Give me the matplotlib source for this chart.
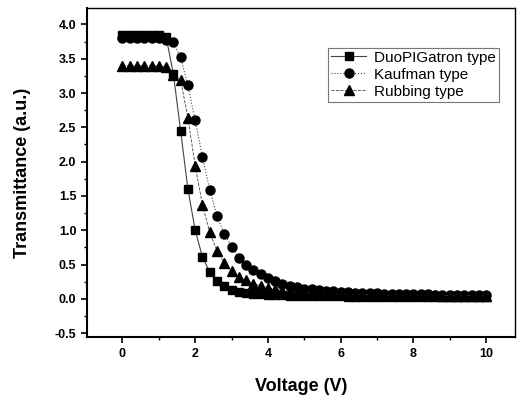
import numpy as np
import matplotlib
matplotlib.use('Agg')
import matplotlib.pyplot as plt

plt.rcParams['font.family'] = ['Liberation Sans', 'DejaVu Sans']

# voltage steps of 0.2 V
voltage = [round(0.2 * i, 1) for i in range(51)]

duo = [3.85, 3.85, 3.85, 3.85, 3.85, 3.85, 3.82, 3.28, 2.45, 1.60,
       1.00, 0.61, 0.39, 0.26, 0.18, 0.13, 0.10, 0.085, 0.075, 0.065,
       0.06, 0.055, 0.05, 0.048, 0.045, 0.043, 0.04, 0.038, 0.036, 0.035,
       0.034, 0.033, 0.032, 0.031, 0.03, 0.029, 0.028, 0.027, 0.026, 0.025,
       0.025, 0.024, 0.024, 0.023, 0.023, 0.022, 0.022, 0.021, 0.021, 0.02,
       0.02]

kauf = [3.80, 3.80, 3.80, 3.80, 3.80, 3.80, 3.78, 3.74, 3.52, 3.11,
        2.60, 2.07, 1.59, 1.21, 0.95, 0.76, 0.60, 0.50, 0.42, 0.36,
        0.30, 0.26, 0.22, 0.19, 0.17, 0.15, 0.14, 0.13, 0.12, 0.11,
        0.10, 0.095, 0.09, 0.085, 0.082, 0.08, 0.077, 0.074, 0.072, 0.07,
        0.068, 0.066, 0.064, 0.062, 0.061, 0.06, 0.059, 0.058, 0.057, 0.056,
        0.055]

rub = [3.40, 3.40, 3.40, 3.40, 3.40, 3.40, 3.38, 3.27, 3.19, 2.64,
       1.94, 1.37, 0.97, 0.70, 0.52, 0.40, 0.32, 0.27, 0.22, 0.19,
       0.16, 0.14, 0.12, 0.11, 0.10, 0.09, 0.085, 0.08, 0.075, 0.07,
       0.067, 0.064, 0.061, 0.059, 0.057, 0.055, 0.054, 0.053, 0.052, 0.051,
       0.05, 0.05, 0.049, 0.049, 0.048, 0.048, 0.047, 0.047, 0.046, 0.046,
       0.045]

labels = ['DuoPIGatron type', 'Kaufman type', 'Rubbing type']

fig = plt.figure(figsize=(5.23, 4.0), dpi=100)
ax = fig.add_axes([0.166, 0.157, 0.819, 0.823])

ax.plot(voltage, duo, '-', color='#444444', lw=0.8, marker='s', ms=6,
        mfc='black', mec='black', label=labels[0])
ax.plot(voltage, kauf, ':', color='#444444', lw=0.8, marker='o', ms=6.5,
        mfc='black', mec='black', label=labels[1])
ax.plot(voltage, rub, '--', color='#444444', lw=0.6, marker='^', ms=7,
        mfc='black', mec='black', label=labels[2])

ax.set_xlim(-0.98, 10.8)
ax.set_ylim(-0.56, 4.24)
ax.set_xticks([0, 2, 4, 6, 8, 10])
ax.set_xticks([1, 3, 5, 7, 9], minor=True)
ax.set_yticks(np.arange(-0.5, 4.01, 0.5))
ax.set_yticks(np.arange(-0.25, 4.1, 0.5), minor=True)
ax.set_yticklabels(['%.1f' % v for v in np.arange(-0.5, 4.01, 0.5)])

ax.tick_params(which='major', direction='out', length=4, width=1.2,
               labelsize=9, right=False, top=False)
ax.tick_params(which='minor', direction='out', length=2.5, width=1.0,
               right=False, top=False)
for lab in ax.get_xticklabels() + ax.get_yticklabels():
    lab.set_fontweight('bold')
for sp in ['left', 'bottom']:
    ax.spines[sp].set_linewidth(1.5)
for sp in ['right', 'top']:
    ax.spines[sp].set_linewidth(1.0)

ax.set_xlabel('Voltage (V)', fontsize=13, fontweight='bold', labelpad=13)
ax.set_ylabel('Transmittance (a.u.)', fontsize=13, fontweight='bold', labelpad=17)

leg = ax.legend(loc='upper right', bbox_to_anchor=(0.962, 0.88), fontsize=11,
                frameon=True, fancybox=False, edgecolor='#555555',
                handlelength=2.3, handletextpad=0.5, borderpad=0.2,
                labelspacing=0.2, borderaxespad=0)
leg.get_frame().set_linewidth(0.8)

fig.savefig('out.png', dpi=100)
